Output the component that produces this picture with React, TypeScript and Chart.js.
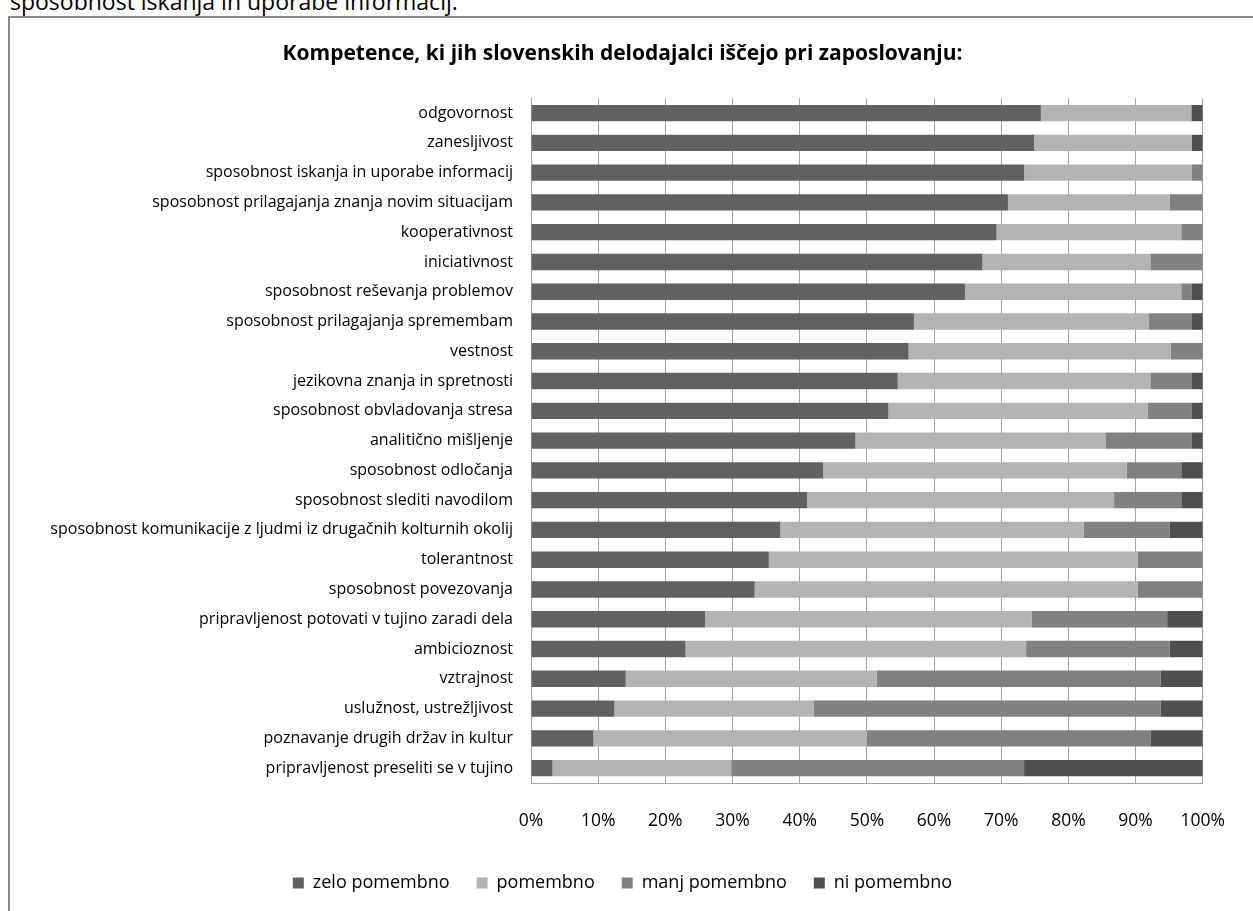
import React, { useEffect, useRef } from "react";
import { Chart, registerables } from "chart.js";

Chart.register(...registerables);

const titleText = "Kompetence, ki jih slovenskih delodajalci iščejo pri zaposlovanju:";
const topText = "sposobnost iskanja in uporabe informacij.";

const categories = [
  "odgovornost",
  "zanesljivost",
  "sposobnost iskanja in uporabe informacij",
  "sposobnost prilagajanja znanja novim situacijam",
  "kooperativnost",
  "iniciativnost",
  "sposobnost reševanja problemov",
  "sposobnost prilagajanja spremembam",
  "vestnost",
  "jezikovna znanja in spretnosti",
  "sposobnost obvladovanja stresa",
  "analitično mišljenje",
  "sposobnost odločanja",
  "sposobnost slediti navodilom",
  "sposobnost komunikacije z ljudmi iz drugačnih kolturnih okolij",
  "tolerantnost",
  "sposobnost povezovanja",
  "pripravljenost potovati v tujino zaradi dela",
  "ambicioznost",
  "vztrajnost",
  "uslužnost, ustrežljivost",
  "poznavanje drugih držav in kultur",
  "pripravljenost preseliti se v tujino",
];

const seriesNames = ["zelo pomembno", "pomembno", "manj pomembno", "ni pomembno"];

const zeloPomembno = [75.9, 74.9, 73.4, 71.0, 69.3, 67.2, 64.6, 57.0, 56.2, 54.6, 53.2, 48.3, 43.5, 41.1, 37.1, 35.4, 33.3, 25.9, 23.0, 14.1, 12.4, 9.3, 3.2];
const pomembno = [22.4, 23.5, 25.0, 24.1, 27.5, 25.0, 32.2, 35.0, 39.0, 37.6, 38.6, 37.2, 45.2, 45.7, 45.2, 54.9, 57.0, 48.6, 50.7, 37.4, 29.7, 40.7, 26.6];
const manjPomembno = [0, 0, 1.6, 4.9, 3.2, 7.8, 1.5, 6.4, 4.8, 6.2, 6.5, 12.8, 8.1, 10.0, 12.8, 9.7, 9.7, 20.2, 21.4, 42.2, 51.6, 42.2, 43.6];
const niPomembno = [1.7, 1.6, 0, 0, 0, 0, 1.7, 1.6, 0, 1.6, 1.7, 1.7, 3.2, 3.2, 4.9, 0, 0, 5.3, 4.9, 6.3, 6.3, 7.8, 26.6];

const xTicks = [0, 10, 20, 30, 40, 50, 60, 70, 80, 90, 100];

const colors = ["#616161", "#b3b3b3", "#818181", "#4f4f4f"];

export default function App() {
  const canvasRef = useRef<HTMLCanvasElement | null>(null);

  useEffect(() => {
    const canvas = canvasRef.current;
    if (!canvas) return;
    const values = [zeloPomembno, pomembno, manjPomembno, niPomembno];
    const font = "'Open Sans', Lato, sans-serif";
    const chart = new Chart(canvas, {
      type: "bar",
      data: {
        labels: categories,
        datasets: seriesNames.map((name, i) => ({
          label: name,
          data: values[i],
          backgroundColor: colors[i],
          borderWidth: 0,
          barPercentage: 0.55,
          categoryPercentage: 1.0,
        })),
      },
      options: {
        indexAxis: "y",
        animation: false,
        responsive: false,
        maintainAspectRatio: false,
        layout: { padding: { left: 34, right: 42, top: 0, bottom: 9 } },
        plugins: {
          title: {
            display: true,
            text: titleText,
            color: "#000",
            font: { family: font, size: 21, weight: "bold" },
            padding: { top: 41, bottom: 32 },
          },
          legend: {
            display: true,
            position: "bottom",
            labels: {
              boxWidth: 11,
              boxHeight: 11,
              padding: 27,
              color: "#000",
              font: { family: font, size: 18 },
            },
          },
          tooltip: { enabled: false },
        },
        scales: {
          x: {
            type: "linear",
            stacked: true,
            min: 0,
            max: 100,
            afterBuildTicks: (scale: any) => {
              scale.ticks = xTicks.map((v) => ({ value: v }));
            },
            afterFit: (scale: any) => {
              scale.height = 64;
            },
            ticks: {
              color: "#000",
              font: { family: font, size: 17.5 },
              padding: 28,
              callback: (v: any) => v + "%",
            },
            grid: { color: "#a3a3a3", lineWidth: 1, drawTicks: false },
            border: { display: true, color: "#a3a3a3", width: 1 },
          },
          y: {
            stacked: true,
            afterFit: (scale: any) => {
              scale.width = 497;
            },
            ticks: {
              color: "#000",
              font: { family: font, size: 16 },
              padding: 18,
              autoSkip: false,
            },
            grid: { display: false, drawTicks: false },
            border: { display: true, color: "#a3a3a3", width: 1 },
          },
        },
      },
    });
    return () => chart.destroy();
  }, []);

  return (
    <div
      style={{
        position: "fixed",
        left: 0,
        top: 0,
        width: 1253,
        height: 911,
        overflow: "hidden",
        background: "#fff",
      }}
    >
      <div
        style={{
          position: "absolute",
          left: 10,
          top: -10,
          fontFamily: "'Open Sans', Lato, sans-serif",
          fontSize: 23,
          lineHeight: "23px",
          color: "#000",
          whiteSpace: "nowrap",
        }}
      >
        {topText}
      </div>
      <div
        style={{
          position: "absolute",
          left: 8,
          top: 16,
          width: 1400,
          height: 1000,
          border: "2px solid #8a8a8a",
        }}
      />
      <canvas
        ref={canvasRef}
        width={1253}
        height={911}
        style={{ position: "absolute", left: 0, top: 0, width: 1253, height: 911 }}
      />
    </div>
  );
}
